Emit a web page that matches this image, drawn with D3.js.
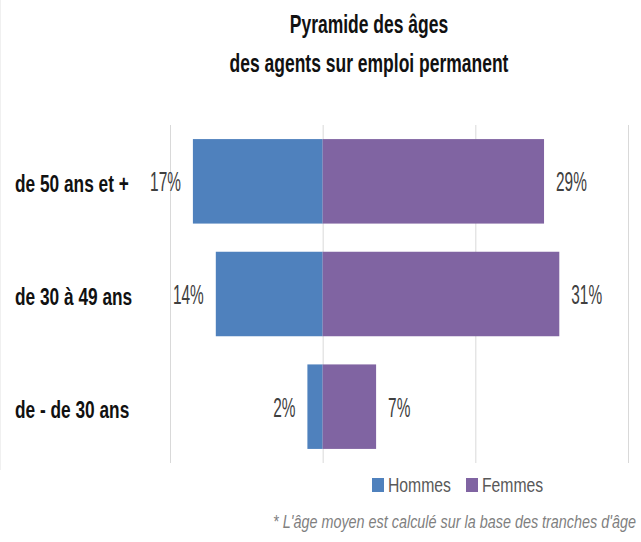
<!DOCTYPE html>
<html>
<head>
<meta charset="utf-8">
<script src="https://cdn.jsdelivr.net/npm/d3@7"></script>
<style>
  body { margin: 0; background: #fff; }
  svg text { font-family: "Liberation Sans", Arial, sans-serif; }
</style>
</head>
<body>
<div id="chart"></div>
<script>
const categories = ['de 50 ans et +', 'de 30 à 49 ans', 'de - de 30 ans'];
const hommes = [17, 14, 2];
const femmes = [29, 31, 7];
const ticks = [-20, 0, 20, 40];
const titleLines = ['Pyramide des âges', 'des agents sur emploi permanent'];
const seriesNames = ['Hommes', 'Femmes'];
const colors = ['#4f81bd', '#8064a2'];
const footnote = "* L'âge moyen est calculé sur la base des tranches d'âge";

const width = 641, height = 542;

// the original uses a narrow font, so squeeze the text horizontally
function squeeze(sel, k) {
    sel.each(function() {
        const t = d3.select(this);
        const tx = +t.attr('x'), ty = +t.attr('y');
        t.attr('x', 0).attr('y', 0)
            .attr('transform', `translate(${tx},${ty}) scale(${k},1)`);
    });
}

const svg = d3.select('#chart').append('svg')
    .attr('width', width)
    .attr('height', height);

const x = d3.scaleLinear().domain([-20, 40]).range([170, 628]);
const y = d3.scaleBand().domain(categories).range([125, 463])
    .paddingInner(0.25).paddingOuter(0.125);

// faint frame line on the left
svg.append('line')
    .attr('x1', 0.5).attr('x2', 0.5)
    .attr('y1', 0).attr('y2', 470)
    .attr('stroke', '#f0f0f0');

// gridlines
svg.append('g').selectAll('line')
    .data(ticks)
    .enter().append('line')
    .attr('x1', d => x(d) + 0.5).attr('x2', d => x(d) + 0.5)
    .attr('y1', 125).attr('y2', 463)
    .attr('stroke', '#d9d9d9');

// title
svg.append('g').selectAll('text')
    .data(titleLines)
    .enter().append('text')
    .attr('x', 369)
    .attr('y', (d, i) => 33 + i * 39)
    .attr('text-anchor', 'middle')
    .attr('font-size', 25)
    .attr('font-weight', 'bold')
    .attr('fill', '#111')
    .text(d => d)
    .call(squeeze, 0.7);

const rows = categories.map((c, i) => ({ cat: c, h: hommes[i], f: femmes[i] }));

// hommes to the left
svg.append('g').selectAll('rect')
    .data(rows)
    .enter().append('rect')
    .attr('x', d => x(-d.h))
    .attr('y', d => y(d.cat))
    .attr('width', d => x(0) - x(-d.h))
    .attr('height', y.bandwidth())
    .attr('fill', colors[0]);

// femmes to the right
svg.append('g').selectAll('rect')
    .data(rows)
    .enter().append('rect')
    .attr('x', x(0))
    .attr('y', d => y(d.cat))
    .attr('width', d => x(d.f) - x(0))
    .attr('height', y.bandwidth())
    .attr('fill', colors[1]);

// category labels
svg.append('g').selectAll('text')
    .data(categories)
    .enter().append('text')
    .attr('x', 15)
    .attr('y', d => y(d) + y.bandwidth() / 2 + 11)
    .attr('font-size', 24)
    .attr('font-weight', 'bold')
    .attr('fill', '#111')
    .text(d => d)
    .call(squeeze, 0.72);

// value labels
svg.append('g').selectAll('text')
    .data(rows)
    .enter().append('text')
    .attr('x', d => x(-d.h) - 12)
    .attr('y', d => y(d.cat) + y.bandwidth() / 2 + 10)
    .attr('text-anchor', 'end')
    .attr('font-size', 28)
    .attr('fill', '#404040')
    .text(d => d.h + '%')
    .call(squeeze, 0.55);

svg.append('g').selectAll('text')
    .data(rows)
    .enter().append('text')
    .attr('x', d => x(d.f) + 12)
    .attr('y', d => y(d.cat) + y.bandwidth() / 2 + 10)
    .attr('font-size', 28)
    .attr('fill', '#404040')
    .text(d => d.f + '%')
    .call(squeeze, 0.55);

// legend
const legX = [372, 466];
seriesNames.forEach((name, i) => {
    const g = svg.append('g').attr('transform', `translate(${legX[i]},0)`);
    g.append('rect')
        .attr('x', 0).attr('y', 478)
        .attr('width', 12).attr('height', 14)
        .attr('fill', colors[i]);
    g.append('text')
        .attr('x', 16)
        .attr('y', 492)
        .attr('font-size', 21)
        .attr('fill', '#595959')
        .text(name)
        .call(squeeze, 0.75);
});

// footnote
svg.append('text')
    .attr('x', 636)
    .attr('y', 528)
    .attr('text-anchor', 'end')
    .attr('font-size', 18)
    .attr('font-style', 'italic')
    .attr('fill', '#7f7f7f')
    .text(footnote)
    .call(squeeze, 0.8);
</script>
</body>
</html>
